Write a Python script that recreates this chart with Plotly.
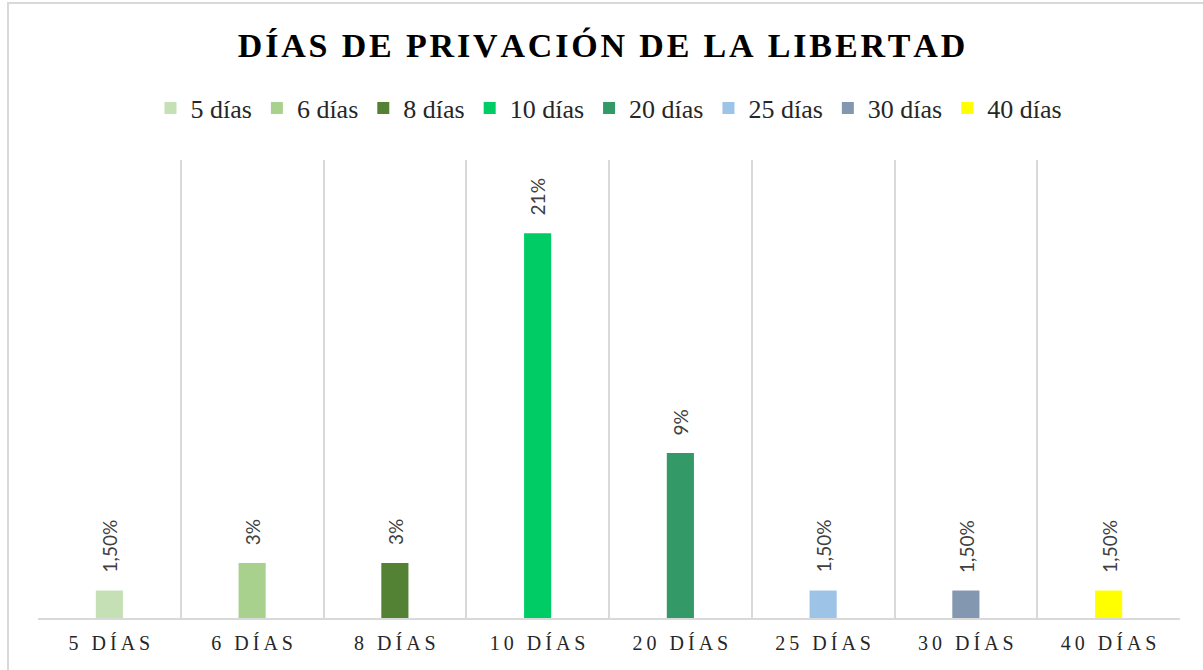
import plotly.graph_objects as go

categories = ["5 DÍAS", "6 DÍAS", "8 DÍAS", "10 DÍAS", "20 DÍAS", "25 DÍAS", "30 DÍAS", "40 DÍAS"]
legend_names = ["5 días", "6 días", "8 días", "10 días", "20 días", "25 días", "30 días", "40 días"]
values = [1.5, 3, 3, 21, 9, 1.5, 1.5, 1.5]
labels = ["1,50%", "3%", "3%", "21%", "9%", "1,50%", "1,50%", "1,50%"]
colors = ["#c5e0b4", "#a9d18e", "#548235", "#00cc66", "#339966", "#9dc3e6", "#8497b0", "#ffff00"]

THIN = "\u2009"
HAIR = "\u200a"


def spaced(s, sep):
    return sep.join(list(s))


fig = go.Figure()
for cat, name, v, c in zip(categories, legend_names, values, colors):
    fig.add_trace(go.Bar(x=[cat], y=[v], name=name, marker=dict(color=c, line=dict(width=0)),
                         width=0.19))

for cat, v, t in zip(categories, values, labels):
    fig.add_annotation(x=cat, y=v, text=t, textangle=-90, showarrow=False,
                       yanchor="bottom", xanchor="center", yshift=16,
                       font=dict(family="Lato", size=19, color="#404040"))

fig.update_layout(
    width=1203, height=670,
    paper_bgcolor="white", plot_bgcolor="white",
    barmode="overlay",
    margin=dict(l=38, r=23, t=160, b=52),
    title=dict(text="<b>" + spaced("DÍAS DE PRIVACIÓN DE LA LIBERTAD", HAIR) + "</b>",
               x=0.5, xanchor="center", y=1 - 45 / 670, yanchor="middle",
               font=dict(family="Liberation Serif", size=34, color="#000000")),
    legend=dict(orientation="h", x=0.5, xanchor="center", y=1 + (160 - 108) / 458, yanchor="middle",
                font=dict(family="Liberation Serif, serif", size=26, color="#262626"),
                itemwidth=30, tracegroupgap=0),
    showlegend=True,
    xaxis=dict(
        type="category", categoryorder="array", categoryarray=categories,
        tickmode="array", tickvals=categories,
        ticktext=[spaced(c, THIN) for c in categories],
        tickson="boundaries", showgrid=True, gridcolor="#d9d9d9", gridwidth=2,
        showline=True, linecolor="#d9d9d9", linewidth=2, ticks="",
        ticklabelstandoff=6,
        tickfont=dict(family="Liberation Serif", size=20, color="#262626"),
        range=[-0.5, 7.5],
    ),
    yaxis=dict(range=[0, 25], visible=False, showgrid=False, zeroline=False),
    shapes=[dict(type="rect", xref="paper", yref="paper",
                 x0=(8 - 38) / 1142, x1=1.2, y0=-0.5, y1=(618 - 3) / 458,
                 line=dict(color="#d9d9d9", width=2), layer="below")],
)

fig.write_html("out.html", config={"displayModeBar": False},
               post_script="document.body.style.margin='0px';")
